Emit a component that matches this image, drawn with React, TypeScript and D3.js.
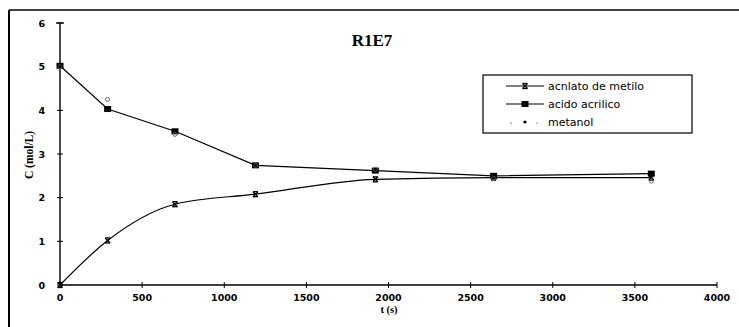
import React from "react";
import * as d3 from "d3";

// Sampling times (s)
const times = [0, 290, 700, 1190, 1920, 2640, 3600];
// Concentrations (mol/L)
const acrilato = [0, 1.02, 1.85, 2.08, 2.42, 2.46, 2.46];
const acido = [5.02, 4.03, 3.52, 2.74, 2.62, 2.5, 2.55];
const metanol = [5.0, 4.25, 3.45, 2.74, 2.65, 2.44, 2.38];

const xTicks = [0, 500, 1000, 1500, 2000, 2500, 3000, 3500, 4000];
const yTicks = [0, 1, 2, 3, 4, 5, 6];

const W = 739;
const H = 327;

export default function App() {
  const x = d3.scaleLinear().domain([0, 4000]).range([60, 717]);
  const y = d3.scaleLinear().domain([0, 6]).range([285, 23]);

  const smooth = d3
    .line<[number, number]>()
    .x((d) => x(d[0]))
    .y((d) => y(d[1]))
    .curve(d3.curveMonotoneX);
  const straight = d3
    .line<[number, number]>()
    .x((d) => x(d[0]))
    .y((d) => y(d[1]));

  const acrPts: [number, number][] = times.map((t, i) => [t, acrilato[i]]);
  const acdPts: [number, number][] = times.map((t, i) => [t, acido[i]]);
  const metPts: [number, number][] = times.map((t, i) => [t, metanol[i]]);

  const tickFont = "'DejaVu Sans', sans-serif";

  const xMark = (cx: number, cy: number, k: string, s = 3) => (
    <g key={k} stroke="#000" strokeWidth={1.3}>
      <line x1={cx - s} y1={cy - s} x2={cx + s} y2={cy + s} />
      <line x1={cx - s} y1={cy + s} x2={cx + s} y2={cy - s} />
      <line x1={cx - s} y1={cy - s} x2={cx + s} y2={cy - s} />
      <line x1={cx - s} y1={cy + s} x2={cx + s} y2={cy + s} />
    </g>
  );

  return (
    <svg
      width={W}
      height={H}
      style={{ position: "absolute", left: 0, top: 0, background: "#fff" }}
    >
      <rect x={0} y={0} width={W} height={H} fill="#fff" />
      {/* outer frame */}
      <line x1={9} y1={10} x2={W} y2={10} stroke="#000" strokeWidth={1.5} />
      <line x1={9} y1={10} x2={9} y2={H} stroke="#000" strokeWidth={2} />

      {/* title */}
      <text
        x={372}
        y={46}
        textAnchor="middle"
        fontFamily="'Liberation Serif', serif"
        fontWeight="bold"
        fontSize={17}
      >
        R1E7
      </text>

      {/* y axis */}
      <line x1={x(0)} y1={y(6)} x2={x(0)} y2={y(0)} stroke="#000" strokeWidth={1.4} />
      <line x1={x(0) - 4} y1={y(6)} x2={x(0) + 4} y2={y(6)} stroke="#000" strokeWidth={1.3} />
      {yTicks.map((t) => (
        <g key={"y" + t}>
          <line x1={x(0) - 3} x2={x(0) + 3} y1={y(t)} y2={y(t)} stroke="#000" strokeWidth={1} />
          <text
            x={45}
            y={y(t) + 3.5}
            textAnchor="end"
            fontFamily={tickFont}
            fontSize={9.5}
            fontWeight="bold"
          >
            {t}
          </text>
        </g>
      ))}

      {/* x axis */}
      <line x1={x(0)} y1={y(0)} x2={x(4000)} y2={y(0)} stroke="#000" strokeWidth={1.4} />
      {xTicks.map((t) => (
        <g key={"x" + t}>
          <line x1={x(t)} x2={x(t)} y1={y(0) - 3} y2={y(0) + 3} stroke="#000" strokeWidth={1} />
          <text
            x={x(t)}
            y={301}
            textAnchor="middle"
            fontFamily={tickFont}
            fontSize={9.5}
            fontWeight="bold"
          >
            {t}
          </text>
        </g>
      ))}

      {/* axis titles */}
      <text
        x={389}
        y={313}
        textAnchor="middle"
        fontFamily="'Liberation Serif', serif"
        fontWeight="bold"
        fontSize={10.5}
      >
        t (s)
      </text>
      <text
        transform={`translate(33,155) rotate(-90)`}
        textAnchor="middle"
        fontFamily="'Liberation Serif', serif"
        fontWeight="bold"
        fontSize={11.5}
      >
        C (mol/L)
      </text>

      {/* acido acrilico */}
      <path d={straight(acdPts) || ""} fill="none" stroke="#000" strokeWidth={1.2} />
      {acdPts.map((d, i) => (
        <rect
          key={"a" + i}
          x={x(d[0]) - 3.5}
          y={y(d[1]) - 3}
          width={7}
          height={6}
          fill="#000"
        />
      ))}

      {/* acrilato de metilo */}
      <path d={smooth(acrPts) || ""} fill="none" stroke="#000" strokeWidth={1.2} />
      {acrPts.map((d, i) => xMark(x(d[0]), y(d[1]), "m" + i, 2.5))}

      {/* metanol (points only) */}
      {metPts.map((d, i) => (
        <circle
          key={"t" + i}
          cx={x(d[0])}
          cy={y(d[1])}
          r={2}
          fill="none"
          stroke="#555"
          strokeWidth={0.9}
        />
      ))}

      {/* legend */}
      <rect x={483} y={75} width={209} height={58} fill="#fff" stroke="#000" strokeWidth={1.2} />
      <line x1={506} x2={544} y1={86} y2={86} stroke="#000" strokeWidth={1.2} />
      {xMark(525, 86, "lg1", 2.5)}
      <line x1={506} x2={544} y1={104} y2={104} stroke="#000" strokeWidth={1.2} />
      <rect x={521.5} y={101} width={7} height={6} fill="#000" />
      <circle cx={525} cy={122} r={1.6} fill="#000" />
      <circle cx={511} cy={123} r={0.6} fill="#000" />
      <circle cx={537} cy={123} r={0.6} fill="#000" />
      {[
        ["acnlato de metilo", 86],
        ["acido acrilico", 104],
        ["metanol", 122],
      ].map(([label, ly]) => (
        <text
          key={label as string}
          x={548}
          y={(ly as number) + 4}
          fontFamily={tickFont}
          fontSize={11}
        >
          {label}
        </text>
      ))}
    </svg>
  );
}
